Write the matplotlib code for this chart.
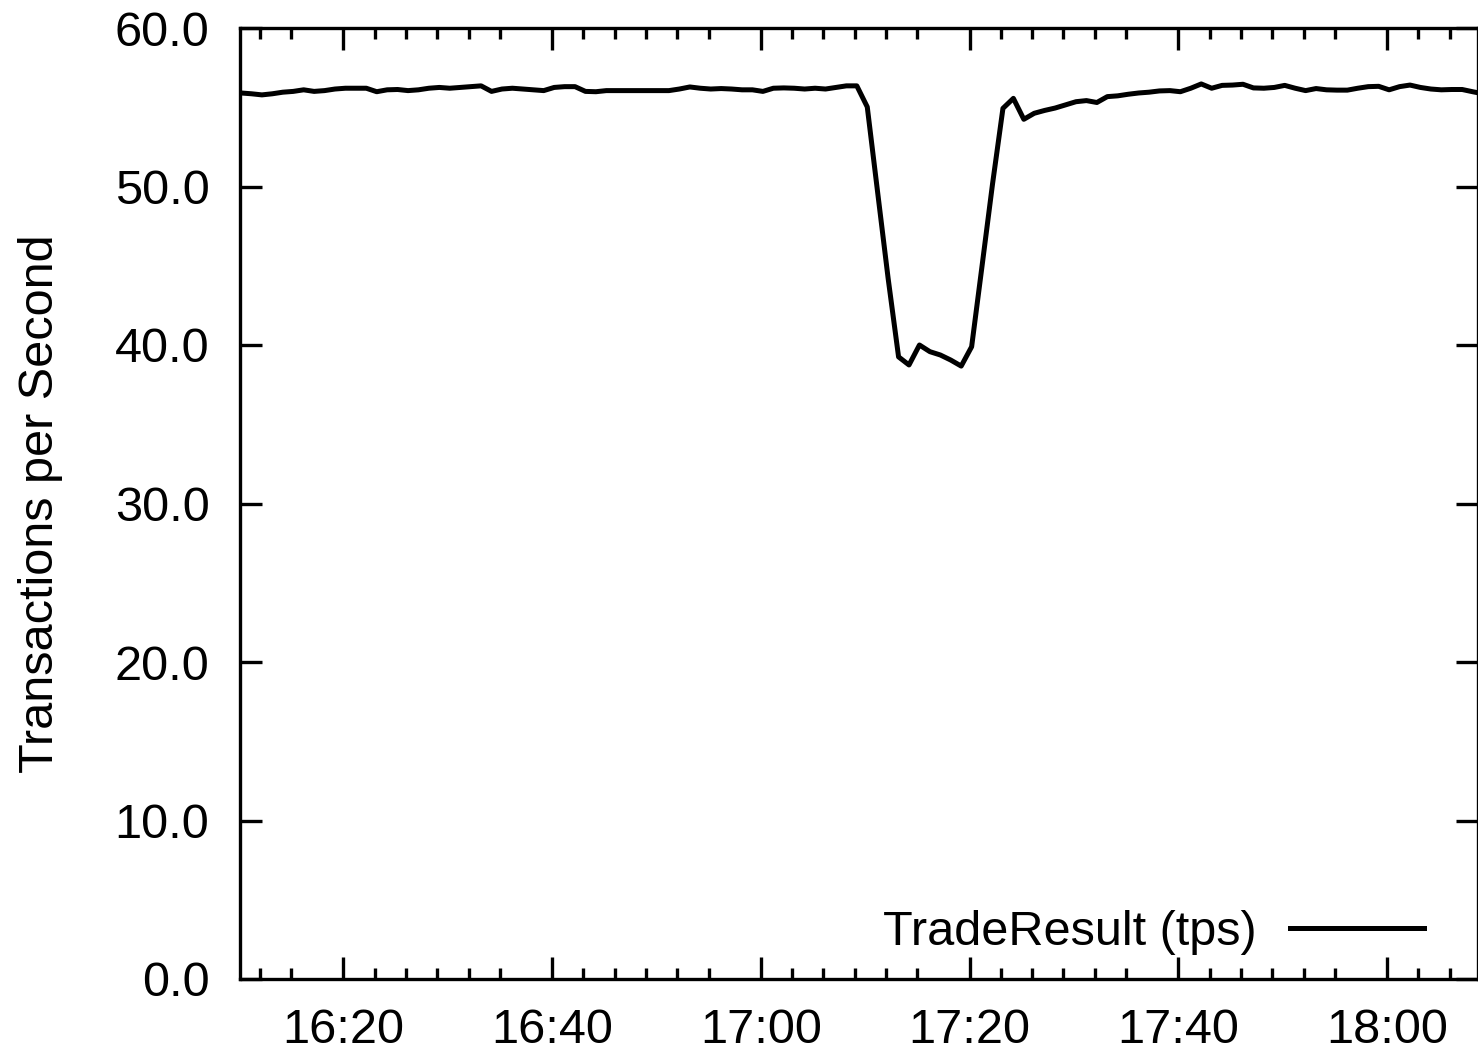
import pandas as pd
import numpy as np
import matplotlib
matplotlib.use("Agg")
import matplotlib.pyplot as plt
import matplotlib.dates as mdates
from matplotlib.ticker import FormatStrFormatter

plt.rcParams["font.family"] = ["Liberation Sans", "DejaVu Sans"]

# one sample per minute, starting 16:10:12
start_time = "2000-01-01 16:10:12"
tps = [
    55.90, 55.85, 55.78, 55.85, 55.95, 56.00, 56.10, 56.00, 56.05, 56.15,
    56.20, 56.20, 56.20, 55.98, 56.10, 56.12, 56.05, 56.10, 56.20, 56.25,
    56.20, 56.25, 56.30, 56.35, 56.00, 56.15, 56.20, 56.15, 56.10, 56.05,
    56.25, 56.30, 56.30, 56.00, 55.98, 56.05, 56.05, 56.05, 56.05, 56.05,
    56.05, 56.05, 56.15, 56.28, 56.20, 56.15, 56.18, 56.15, 56.10, 56.10,
    56.00, 56.20, 56.22, 56.20, 56.15, 56.20, 56.15, 56.25, 56.35, 56.35,
    55.02, 49.60, 44.20, 39.25, 38.74, 40.00, 39.58, 39.37, 39.05, 38.67,
    39.89, 45.00, 50.15, 54.93, 55.56, 54.24, 54.62, 54.80, 54.95, 55.15,
    55.35, 55.42, 55.30, 55.67, 55.72, 55.82, 55.90, 55.95, 56.03, 56.05,
    55.98, 56.20, 56.47, 56.20, 56.38, 56.40, 56.45, 56.22, 56.20, 56.25,
    56.38, 56.20, 56.05, 56.18, 56.10, 56.08, 56.08, 56.20, 56.30, 56.32,
    56.10, 56.30, 56.40, 56.25, 56.15, 56.10, 56.12, 56.12, 55.98, 55.85,
]
times = pd.date_range(start_time, periods=len(tps), freq="1min")

y_ticks = [0, 10, 20, 30, 40, 50, 60]
series_label = "TradeResult (tps)"
y_title = "Transactions per Second"

fig = plt.figure(figsize=(14.78, 10.51), dpi=100)
ax = fig.add_axes([240 / 1478, 1 - 979 / 1051, 1238 / 1478, 951 / 1051])

ax.plot(times, tps, color="black", linewidth=3.6, label=series_label)

ax.set_xlim(pd.Timestamp("2000-01-01 16:10:06"), pd.Timestamp("2000-01-01 18:08:43"))
ax.set_ylim(0, 60)
ax.set_yticks(y_ticks)
ax.yaxis.set_major_formatter(FormatStrFormatter("%.1f"))

ax.xaxis.set_major_locator(mdates.MinuteLocator(byminute=[0, 20, 40]))
ax.xaxis.set_minor_locator(mdates.MinuteLocator(
    byminute=[3, 6, 9, 12, 15, 23, 26, 29, 32, 35, 43, 46, 49, 52, 55]))
ax.xaxis.set_major_formatter(mdates.DateFormatter("%H:%M"))

for s in ax.spines.values():
    s.set_linewidth(2.4)
ax.tick_params(which="both", direction="in", top=True, right=True, width=2.4)
ax.tick_params(which="major", length=16, labelsize=35)
ax.tick_params(which="minor", length=8)
ax.tick_params(axis="x", which="major", pad=21)
ax.tick_params(axis="y", which="major", pad=22)

ax.set_ylabel(y_title, fontsize=35)
ax.yaxis.set_label_coords(-0.143, 0.5)

ax.legend(loc="center right", bbox_to_anchor=(0.9564, 0.0494), frameon=False,
          markerfirst=False, fontsize=35, handlelength=2.75, handletextpad=0.7,
          borderpad=0, borderaxespad=0)

fig.savefig("out.png", dpi=100)
